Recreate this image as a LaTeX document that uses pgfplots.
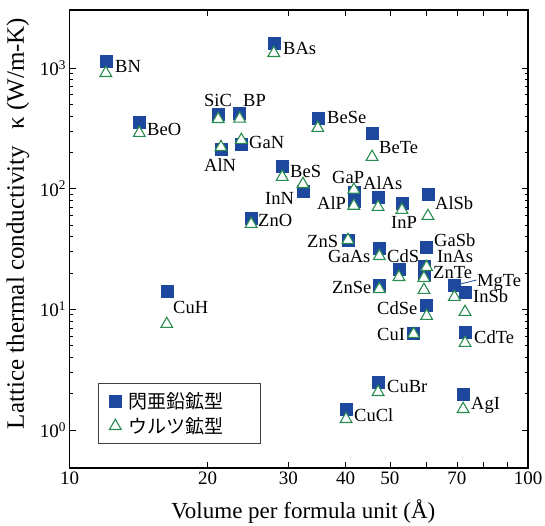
\documentclass[border=0pt]{standalone}
\usepackage{pgfplots}
\pgfplotsset{compat=1.18}
\usepackage{fontspec}
\setmainfont{Liberation Serif}
\newfontfamily\cjk{Noto Sans CJK JP}
\definecolor{zb}{RGB}{30,72,158}
\definecolor{wz}{RGB}{40,140,80}
\begin{document}
\begin{tikzpicture}
\useasboundingbox (-69.5pt,-58pt) rectangle (475.5pt,468pt);
\begin{axis}[
  at={(0,0)}, anchor=south west,
  width=458.5pt, height=458pt, scale only axis,
  xmode=log, ymode=log,
  xmin=10, xmax=100, ymin=0.484, ymax=3024,
  xtick={10,20,30,40,50,60,70,80,90,100},
  xticklabels={10,20,30,40,50,,70,,,100},
  xminorticks=false,
  ytick={1,10,100,1000},
  yticklabels={10\textsuperscript{0},10\textsuperscript{1},10\textsuperscript{2},10\textsuperscript{3}},
  tick align=inside,
  major tick length=6pt, minor tick length=3.5pt,
  tick style={black, line width=0.8pt},
  axis line style={line width=1.1pt},
  ticklabel style={font=\fontsize{19}{20}\selectfont},
  xlabel={Volume per formula unit (Å)},
  ylabel={Lattice thermal conductivity\hspace{0.4em} κ (W/m-K)},
  xlabel style={font=\fontsize{23}{24}\selectfont, at={(axis description cs:0.510,-0.096)}, anchor=center},
  ylabel style={font=\fontsize{25}{26}\selectfont, at={(axis description cs:-0.1123,0.534)}, anchor=center},
  legend style={at={(axis description cs:0.062,0.052)}, anchor=south west,
    draw=black!75, line width=0.8pt, font=\cjk\fontsize{19}{21}\selectfont,
    inner xsep=11pt, inner ysep=7pt, row sep=3pt, cells={anchor=west}},
  legend cell align=left,
]
\addplot[only marks, mark=square*, mark size=6pt, mark options={draw=zb, fill=zb}] coordinates {
(12.0,1140) (14.2,356) (16.3,14.2) (21.1,415) (21.4,213) (23.5,420) (23.7,234)
(24.9,57) (27.9,1593) (29.1,154) (32.3,94.6) (34.8,384) (40.5,37.5) (40.1,1.49)
(41.7,94) (41.7,79) (45.7,289) (47.1,85) (47.4,32.2) (47.4,15.9) (47.1,2.50)
(52.3,21.6) (53.1,76) (56.3,6.36) (60.1,32.8) (59.3,22.6) (59.3,19.2) (60.1,10.85)
(60.5,90.2) (69.1,15.9) (72.9,13.9) (72.9,6.48) (72.2,1.99)
};
\addlegendentry{\makebox[124pt][l]{\hspace{5pt}閃亜鉛鉱型}}
\addplot[only marks, mark=triangle*, mark size=6.8pt, mark options={draw=wz, fill=white, line width=1.1pt}] coordinates {
(12.0,907) (14.2,289) (16.3,7.55) (21.1,377) (21.4,221) (23.5,380) (23.7,253)
(24.9,50.9) (27.9,1329) (29.1,125) (32.3,109) (34.8,318) (40.5,37.5) (40.1,1.23)
(41.7,98) (41.7,72) (45.7,183) (47.1,70.4) (47.4,27.6) (47.4,14.7) (47.1,2.06)
(52.3,18.5) (53.1,66.5) (56.3,6.24) (60.1,22.4) (59.3,18.2) (59.3,14.45) (60.1,8.8)
(60.5,59.3) (69.1,12.65) (72.9,9.5) (72.9,5.26) (72.2,1.49)
};
\addlegendentry{\makebox[124pt][l]{\hspace{5pt}ウルツ鉱型}}
\end{axis}
\begin{scope}[every node/.style={anchor=base west, inner sep=0pt, font=\fontsize{18.5}{19}\selectfont}]
\node at (45.5pt,395.7pt) {BN};
\node at (77.5pt,332.7pt) {BeO};
\node at (103.5pt,154.7pt) {CuH};
\node at (134.5pt,361.7pt) {SiC};
\node at (173.5pt,361.7pt) {BP};
\node at (134.5pt,296.7pt) {AlN};
\node at (179.5pt,319.7pt) {GaN};
\node at (213.5pt,413.7pt) {BAs};
\node at (257.5pt,344.7pt) {BeSe};
\node at (309.5pt,314.7pt) {BeTe};
\node at (220.5pt,290.7pt) {BeS};
\node at (195.5pt,263.7pt) {InN};
\node at (188.5pt,241.7pt) {ZnO};
\node at (262.5pt,284.7pt) {GaP};
\node at (293.5pt,278.7pt) {AlAs};
\node at (247.5pt,258.7pt) {AlP};
\node at (321.5pt,239.7pt) {InP};
\node at (365.5pt,258.7pt) {AlSb};
\node at (237.5pt,220.7pt) {ZnS};
\node at (258.5pt,205.7pt) {GaAs};
\node at (317.5pt,205.7pt) {CdS};
\node at (364.5pt,221.7pt) {GaSb};
\node at (367.5pt,205.7pt) {InAs};
\node at (363.5pt,189.7pt) {ZnTe};
\node at (407.5pt,181.7pt) {MgTe};
\node at (403.5pt,165.7pt) {InSb};
\node at (262.5pt,174.7pt) {ZnSe};
\node at (307.5pt,153.7pt) {CdSe};
\node at (307.5pt,127.7pt) {CuI};
\node at (404.5pt,124.7pt) {CdTe};
\node at (317.5pt,75.7pt) {CuBr};
\node at (284.5pt,46.7pt) {CuCl};
\node at (401.5pt,58.7pt) {AgI};
\end{scope}
\draw[zb, line width=0.8pt] (391pt,184pt) -- (407pt,188pt);
\end{tikzpicture}
\end{document}
